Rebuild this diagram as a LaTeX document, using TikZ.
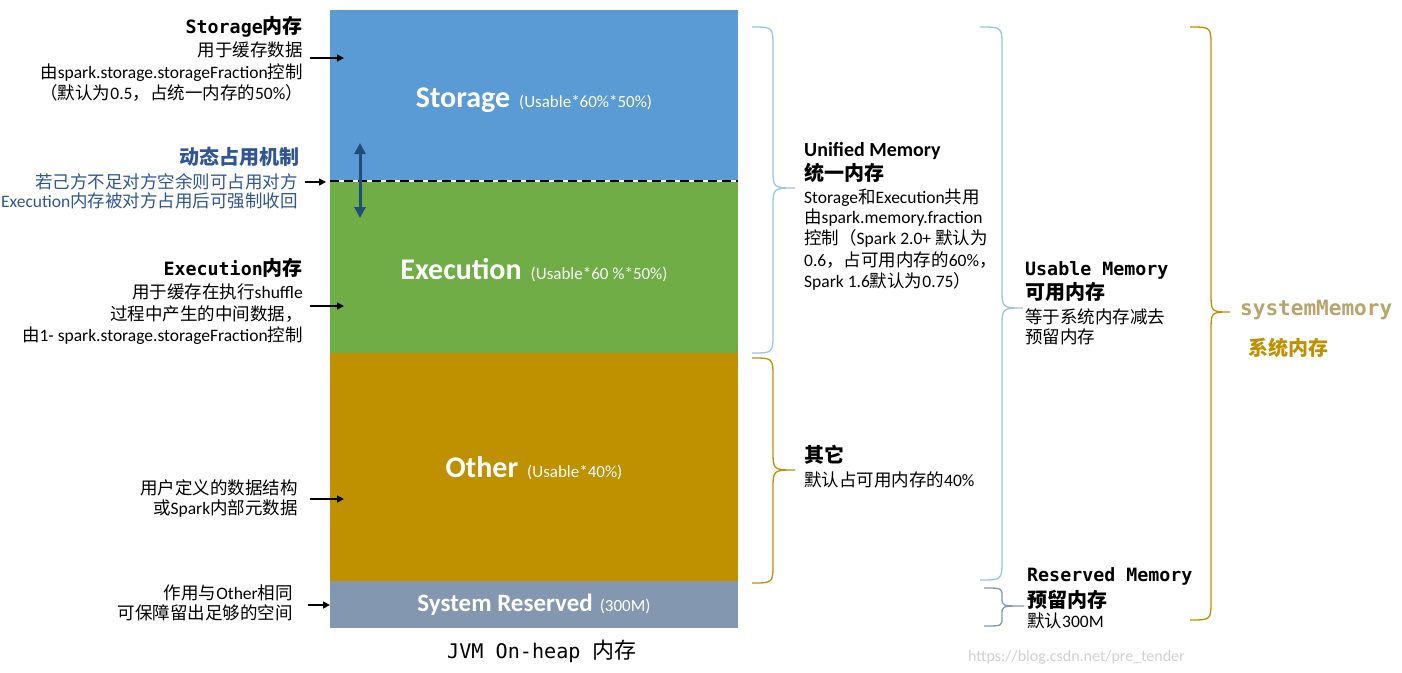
\documentclass[tikz,border=0pt]{standalone}
\usepackage{fontspec}
\setmainfont{Carlito}
\setmonofont[Scale=0.915]{DejaVu Sans Mono}
\newfontfamily\cjk{Noto Sans CJK SC}
\usetikzlibrary{arrows.meta}
\definecolor{storc}{HTML}{5B9BD5}
\definecolor{execc}{HTML}{70AD47}
\definecolor{othc}{HTML}{BF9000}
\definecolor{resc}{HTML}{8497B0}
\definecolor{dynblue}{HTML}{2F5597}
\definecolor{arrblue}{HTML}{1F4E79}
\definecolor{lblue}{HTML}{9DC3E6}
\definecolor{sysmem}{HTML}{B8A46C}
\newcommand\zh[1]{{\cjk #1}}
\newcommand\fs[1]{\fontsize{#1}{#1}\selectfont}
\newcommand\mybrace[8]{%
  \draw[#1, line width=1.3pt] (#2,#5) .. controls (#3,#5) .. (#3,#5+#8) -- (#3,#6-#8)
    .. controls (#3,#6) .. (#4,#6) .. controls (#3,#6) .. (#3,#6+#8) -- (#3,#7-#8)
    .. controls (#3,#7) .. (#2,#7);}
\tikzset{
  txt/.style={inner sep=0pt, font=\fs{17.5}},
  head/.style={inner sep=0pt, font=\fs{20}\bfseries},
  lbl/.style={inner sep=0pt, text=white, anchor=base},
  membox/.style={draw=none, inner sep=0pt, minimum width=408pt},
  ptr/.style={-{Triangle[length=7pt,width=7pt]}, line width=1.6pt, black},
  dblarrow/.style={{Triangle[length=11pt,width=11pt]}-{Triangle[length=11pt,width=11pt]}, line width=3pt, arrblue},
}
\begin{document}
\begin{tikzpicture}[x=1pt,y=-1pt]
\useasboundingbox[fill=white] (0,0) rectangle (1402,672);

% memory boxes
\node[membox, fill=storc, minimum height=171pt] (stor) at (534,95.5) {};
\node[membox, fill=execc, minimum height=172pt] (exec) at (534,267) {};
\node[membox, fill=othc, minimum height=228pt] (oth) at (534,467) {};
\node[membox, fill=resc, minimum height=47pt] (res) at (534,604.5) {};

% dashed boundary
\draw[white, line width=2.2pt] (stor.south west) -- (stor.south east);
\draw[black, line width=2.4pt, dash pattern=on 9pt off 5pt] (stor.south west) -- (stor.south east);

% box labels
\node[lbl] (stl) at (534,107) {{\fs{30}\bfseries Storage}\hspace{9pt}{\fs{17}(Usable*60\%*50\%)}};
\node[lbl] (exl) at (534,279) {{\fs{30}\bfseries Execution}\hspace{9pt}{\fs{17}(Usable*60 \%*50\%)}};
\node[lbl] (otl) at (534,477) {{\fs{30}\bfseries Other}\hspace{9pt}{\fs{17}(Usable*40\%)}};
\node[lbl] (rsl) at (534,611) {{\fs{25}\bfseries System Reserved}\hspace{7pt}{\fs{17}(300M)}};

% double arrow
\coordinate (dtop) at (360,143);
\coordinate (dbot) at (360,218);
\draw[dblarrow] (dtop) -- (dbot);

% left texts
\node[head, anchor=base east] (sh) at (303,33) {{\ttfamily Storage}\zh{内存}};
\node[txt, anchor=base east] (s1) at (303,56.5) {\zh{用于缓存数据}};
\node[txt, anchor=base east] (s2) at (303,78.5) {\zh{由}spark.storage.storageFraction\zh{控制}};
\node[txt, anchor=base east] (s3) at (303,99.5) {\zh{（默认为}0.5\zh{，占统一内存的}50\%\zh{）}};

\node[head, anchor=base east, text=dynblue] (dh) at (300,164) {\zh{动态占用机制}};
\node[txt, anchor=base east, text=dynblue] (d1) at (298,188) {\zh{若己方不足对方空余则可占用对方}};
\node[txt, anchor=base east, text=dynblue] (d2) at (298,207) {Execution\zh{内存被对方占用后可强制收回}};

\node[head, anchor=base east] (eh) at (303,275) {{\ttfamily Execution}\zh{内存}};
\node[txt, anchor=base east] (e1) at (303,298) {\zh{用于缓存在执行}shuffle};
\node[txt, anchor=base east] (e2) at (303,320) {\zh{过程中产生的中间数据，}};
\node[txt, anchor=base east] (e3) at (303,341) {\zh{由}1- spark.storage.storageFraction\zh{控制}};

\node[txt, anchor=base east] (o1) at (298,494) {\zh{用户定义的数据结构}};
\node[txt, anchor=base east] (o2) at (298,514) {\zh{或}Spark\zh{内部元数据}};

\node[txt, anchor=base east] (r1) at (293,599) {\zh{作用与}Other\zh{相同}};
\node[txt, anchor=base east] (r2) at (293,619) {\zh{可保障留出足够的空间}};

% left pointers
\coordinate (pa1) at (310,58);  \coordinate (pb1) at (344,58);
\coordinate (pa2) at (305,182); \coordinate (pb2) at (326,182);
\coordinate (pa3) at (310,306); \coordinate (pb3) at (344,306);
\coordinate (pa4) at (310,499); \coordinate (pb4) at (344,499);
\coordinate (pa5) at (308,605); \coordinate (pb5) at (330,605);
\draw[ptr] (pa1) -- (pb1);
\draw[ptr] (pa2) -- (pb2);
\draw[ptr] (pa3) -- (pb3);
\draw[ptr] (pa4) -- (pb4);
\draw[ptr] (pa5) -- (pb5);

% bottom caption
\node[inner sep=0pt, anchor=base west, font=\fs{22}\ttfamily] (jvm) at (447,658) {JVM On-heap \zh{内存}};

% braces
\mybrace{lblue}{752}{773}{795}{27}{188}{353}{20}
\mybrace{othc}{752}{773}{795}{358}{470}{583}{20}
\mybrace{lblue}{980}{1002}{1023}{27}{308}{580}{20}
\mybrace{resc}{984}{1002}{1024}{588}{606}{626}{8}
\mybrace{othc}{1190}{1211}{1230}{27}{312}{620}{20}

% middle texts
\node[head, anchor=base west] (um) at (804,156) {Unified Memory};
\node[head, anchor=base west] (umc) at (804,180) {\zh{统一内存}};
\node[txt, anchor=base west] (u1) at (804,203.5) {Storage\zh{和}Execution\zh{共用}};
\node[txt, anchor=base west] (u2) at (804,223.5) {\zh{由}spark.memory.fraction};
\node[txt, anchor=base west] (u3) at (804,244.5) {\zh{控制（}Spark 2.0+ \zh{默认为}};
\node[txt, anchor=base west] (u4) at (804,266.5) {0.6\zh{，占可用内存的}60\%\zh{，}};
\node[txt, anchor=base west] (u5) at (804,287.5) {Spark 1.6\zh{默认为}0.75\zh{）}};

\node[head, anchor=base west] (qh) at (804,462) {\zh{其它}};
\node[txt, anchor=base west] (q1) at (804,486.5) {\zh{默认占可用内存的}40\%};

% right texts
\node[head, anchor=base west] (ush) at (1025,275) {\ttfamily Usable Memory};
\node[head, anchor=base west] (usc) at (1025,299) {\zh{可用内存}};
\node[txt, anchor=base west] (us1) at (1025,323.5) {\zh{等于系统内存减去}};
\node[txt, anchor=base west] (us2) at (1025,343.5) {\zh{预留内存}};

\node[head, anchor=base west] (rmh) at (1027,581) {\ttfamily Reserved Memory};
\node[head, anchor=base west] (rmc) at (1027,607) {\zh{预留内存}};
\node[txt, anchor=base west] (rm1) at (1027,627.5) {\zh{默认}300M};

\node[inner sep=0pt, anchor=base west, font=\fs{23}\bfseries\ttfamily, text=sysmem] (sm) at (1240,315) {systemMemory};
\node[head, anchor=base west, text=othc] (smc) at (1248,355) {\zh{系统内存}};

% watermark
\node[inner sep=0pt, anchor=base west, font=\fs{16}, text=black!18] (wm) at (968,661) {https://blog.csdn.net/pre\_tender};
\end{tikzpicture}
\end{document}
